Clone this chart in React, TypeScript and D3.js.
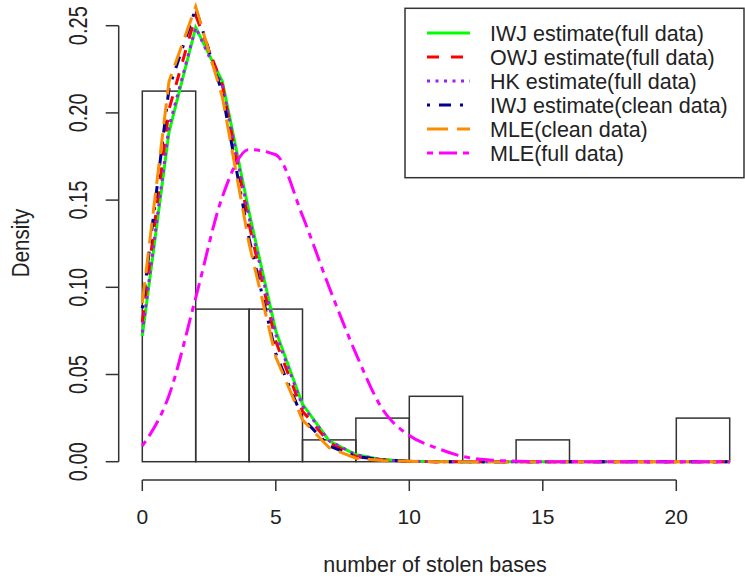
import React, { useRef, useEffect } from "react";
import * as d3 from "d3";

// histogram bins (left edge) and densities
const binStarts = [0, 2, 4, 6, 8, 10, 12, 14, 16, 18, 20];
const binDensity = [0.2125, 0.0875, 0.0875, 0.0125, 0.025, 0.0375, 0, 0.0125, 0, 0, 0.025];
const binWidth = 2;

const xGrid = d3.range(0, 23);

// densities read at x = 0..22
const iwjFull = [0.072, 0.189, 0.249, 0.218, 0.143, 0.075, 0.033, 0.012, 0.004, 0.0012, 0.0003, 0.0001, 0, 0, 0, 0, 0, 0, 0, 0, 0, 0, 0];
const owjFull = [0.080, 0.202, 0.256, 0.216, 0.136, 0.069, 0.029, 0.011, 0.003, 0.001, 0.0002, 0, 0, 0, 0, 0, 0, 0, 0, 0, 0, 0, 0];
const hkFull = [0.074, 0.192, 0.249, 0.216, 0.140, 0.073, 0.032, 0.012, 0.004, 0.001, 0.0003, 0, 0, 0, 0, 0, 0, 0, 0, 0, 0, 0, 0];
const iwjClean = [0.088, 0.214, 0.260, 0.211, 0.128, 0.062, 0.025, 0.009, 0.003, 0.001, 0.0002, 0, 0, 0, 0, 0, 0, 0, 0, 0, 0, 0, 0];
const mleClean = [0.091, 0.218, 0.261, 0.209, 0.125, 0.060, 0.024, 0.008, 0.002, 0.0007, 0.0002, 0, 0, 0, 0, 0, 0, 0, 0, 0, 0, 0, 0];
const mleFull = [0.009, 0.038, 0.094, 0.152, 0.179, 0.176, 0.141, 0.100, 0.062, 0.030, 0.015, 0.008, 0.003, 0.001, 0.0003, 0, 0, 0, 0, 0, 0, 0, 0];

const xTicks = [0, 5, 10, 15, 20];
const yTicks = [0, 0.05, 0.1, 0.15, 0.2, 0.25];

const series = [
    { label: "IWJ estimate(full data)", values: iwjFull, color: "#00ff00", dash: "none", smooth: false },
    { label: "OWJ estimate(full data)", values: owjFull, color: "#ff0000", dash: "12,12", smooth: false },
    { label: "HK estimate(full data)", values: hkFull, color: "#a020f0", dash: "3,5.5", smooth: false },
    { label: "IWJ estimate(clean data)", values: iwjClean, color: "#00008b", dash: "3,9,12,9", smooth: false },
    { label: "MLE(clean data)", values: mleClean, color: "#ff8c00", dash: "21,9", smooth: false },
    { label: "MLE(full data)", values: mleFull, color: "#ff00ff", dash: "6,6,18,6", smooth: true },
];

const App: React.FC = () => {
    const ref = useRef<SVGSVGElement | null>(null);

    useEffect(() => {
        if (!ref.current) return;
        const svg = d3.select(ref.current);
        svg.selectAll("*").remove();

        const font = "'Liberation Sans', Arial, sans-serif";
        const ink = "#222";

        const x = d3.scaleLinear().domain([0, 20]).range([142.3, 676.3]);
        const y = d3.scaleLinear().domain([0, 0.25]).range([461.7, 25.7]);

        // histogram
        svg
            .append("g")
            .selectAll("rect")
            .data(binStarts.map((s, i) => ({ s, d: binDensity[i] })))
            .enter()
            .append("rect")
            .attr("x", d => x(d.s))
            .attr("y", d => y(d.d))
            .attr("width", x(binWidth) - x(0))
            .attr("height", d => y(0) - y(d.d))
            .attr("fill", "none")
            .attr("stroke", "#333")
            .attr("stroke-width", 1.5);

        // density curves
        series.forEach(s => {
            const line = d3
                .line<number>()
                .x((_, i) => x(xGrid[i]))
                .y(d => y(d))
                .curve(s.smooth ? d3.curveMonotoneX : d3.curveLinear);
            svg
                .append("path")
                .datum(s.values)
                .attr("fill", "none")
                .attr("stroke", s.color)
                .attr("stroke-width", 3)
                .attr("stroke-dasharray", s.dash)
                .attr("d", line as any);
        });

        // x axis
        const xAxis = svg.append("g").attr("transform", "translate(0,480)");
        xAxis
            .append("line")
            .attr("x1", x(0))
            .attr("x2", x(20))
            .attr("stroke", "#333")
            .attr("stroke-width", 1.5);
        xTicks.forEach(t => {
            xAxis
                .append("line")
                .attr("x1", x(t))
                .attr("x2", x(t))
                .attr("y1", 0)
                .attr("y2", 11)
                .attr("stroke", "#333")
                .attr("stroke-width", 1.5);
            xAxis
                .append("text")
                .attr("x", x(t))
                .attr("y", 44)
                .attr("text-anchor", "middle")
                .attr("font-family", font)
                .attr("font-size", 21)
                .attr("fill", ink)
                .text(t);
        });

        // y axis
        const yAxis = svg.append("g").attr("transform", "translate(118.7,0)");
        yAxis
            .append("line")
            .attr("y1", y(0))
            .attr("y2", y(0.25))
            .attr("stroke", "#333")
            .attr("stroke-width", 1.5);
        yTicks.forEach(t => {
            yAxis
                .append("line")
                .attr("x1", -13)
                .attr("x2", 0)
                .attr("y1", y(t))
                .attr("y2", y(t))
                .attr("stroke", "#333")
                .attr("stroke-width", 1.5);
            yAxis
                .append("text")
                .attr("transform", `translate(-32,${y(t)}) rotate(-90) scale(1,1.3)`)
                .attr("text-anchor", "middle")
                .attr("font-family", font)
                .attr("font-size", 20)
                .attr("fill", ink)
                .text(d3.format(".2f")(t));
        });

        // axis titles
        svg
            .append("text")
            .attr("x", 435)
            .attr("y", 572)
            .attr("text-anchor", "middle")
            .attr("font-family", font)
            .attr("font-size", 21.5)
            .attr("fill", ink)
            .text("number of stolen bases");

        svg
            .append("text")
            .attr("transform", `translate(29,243) rotate(-90) scale(1,1.2)`)
            .attr("text-anchor", "middle")
            .attr("font-family", font)
            .attr("font-size", 20.5)
            .attr("fill", ink)
            .text("Density");

        // legend
        const legend = svg.append("g");
        legend
            .append("rect")
            .attr("x", 405)
            .attr("y", 8.3)
            .attr("width", 339)
            .attr("height", 169.4)
            .attr("fill", "white")
            .attr("stroke", "#333")
            .attr("stroke-width", 1.5);

        series.forEach((s, i) => {
            const cy = 33 + i * 24;
            legend
                .append("line")
                .attr("x1", 427)
                .attr("x2", 470)
                .attr("y1", cy)
                .attr("y2", cy)
                .attr("stroke", s.color)
                .attr("stroke-width", 3)
                .attr("stroke-dasharray", s.dash);
            legend
                .append("text")
                .attr("x", 490)
                .attr("y", cy + 8)
                .attr("font-family", font)
                .attr("font-size", 21.5)
                .attr("fill", ink)
                .text(s.label);
        });
    }, []);

    return (
        <svg
            ref={ref}
            width={745}
            height={578}
            style={{ position: "absolute", left: 0, top: 0, background: "white" }}
        />
    );
};

export default App;
